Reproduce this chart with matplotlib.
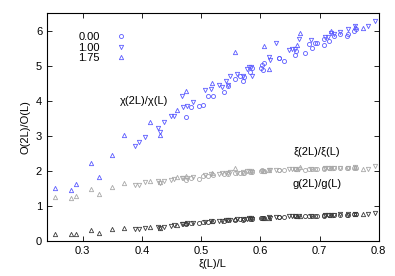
import matplotlib
matplotlib.use('Agg')
import matplotlib.pyplot as plt
import numpy as np

plt.rcParams['font.family'] = ['Liberation Sans', 'DejaVu Sans']

# alpha = 1.75 (triangulos)
x_175 = [0.254, 0.281, 0.289, 0.314, 0.327, 0.350, 0.370, 0.413, 0.430, 0.459,
         0.474, 0.519, 0.557, 0.607, 0.615, 0.662, 0.667, 0.719, 0.759, 0.773]
chi_175 = [1.52, 1.44, 1.62, 2.21, 1.82, 2.46, 3.02, 3.38, 3.01, 3.73,
           4.27, 4.50, 5.38, 5.57, 4.89, 5.58, 5.92, 5.98, 6.10, 6.06]
xi_175 = [1.25, 1.22, 1.28, 1.48, 1.35, 1.53, 1.65, 1.72, 1.69, 1.81,
          1.85, 1.93, 2.08, 2.00, 2.02, 2.05, 2.10, 2.08, 2.10, 2.06]
g_175 = [0.20, 0.19, 0.20, 0.30, 0.23, 0.33, 0.38, 0.41, 0.38, 0.46,
         0.52, 0.56, 0.63, 0.66, 0.66, 0.70, 0.72, 0.74, 0.76, 0.77]

# alpha = 1.00 (triangulos invertidos)
x_100 = [0.388, 0.395, 0.406, 0.428, 0.430, 0.437, 0.449, 0.454, 0.468, 0.470,
         0.477, 0.486, 0.507, 0.517, 0.531, 0.535, 0.542, 0.545, 0.549, 0.560,
         0.570, 0.578, 0.581, 0.585, 0.586, 0.615, 0.617, 0.627, 0.649, 0.654,
         0.659, 0.666, 0.685, 0.710, 0.714, 0.720, 0.724, 0.734, 0.748, 0.759,
         0.782, 0.794]
chi_100 = [2.71, 2.82, 2.96, 3.22, 3.12, 3.39, 3.55, 3.57, 4.12, 3.81,
           3.84, 3.96, 4.31, 4.33, 4.45, 4.39, 4.56, 4.44, 4.69, 4.75,
           4.71, 4.89, 4.96, 4.97, 4.69, 5.25, 5.17, 5.64, 5.44, 5.48,
           5.46, 5.75, 5.73, 5.82, 5.82, 5.93, 5.91, 5.97, 6.03, 6.14,
           6.14, 6.28]
xi_100 = [1.60, 1.60, 1.67, 1.70, 1.66, 1.72, 1.74, 1.76, 1.80, 1.79,
          1.80, 1.82, 1.88, 1.90, 1.92, 1.93, 1.95, 1.94, 1.96, 1.95,
          1.97, 1.99, 2.00, 2.00, 1.98, 2.02, 2.01, 2.03, 2.04, 2.05,
          2.04, 2.06, 2.06, 2.07, 2.07, 2.08, 2.08, 2.08, 2.09, 2.10,
          2.06, 2.15]
g_100 = [0.33, 0.33, 0.36, 0.40, 0.37, 0.39, 0.43, 0.45, 0.48, 0.49,
         0.50, 0.51, 0.55, 0.56, 0.58, 0.58, 0.60, 0.59, 0.61, 0.62,
         0.62, 0.64, 0.65, 0.65, 0.63, 0.67, 0.66, 0.69, 0.70, 0.71,
         0.70, 0.72, 0.72, 0.74, 0.74, 0.75, 0.75, 0.76, 0.77, 0.78,
         0.77, 0.81]

# alpha = 0.00 (circulos)
x_000 = [0.475, 0.483, 0.496, 0.504, 0.512, 0.520, 0.538, 0.546, 0.558, 0.566,
         0.571, 0.573, 0.582, 0.586, 0.602, 0.603, 0.605, 0.606, 0.631, 0.632,
         0.640, 0.658, 0.661, 0.675, 0.682, 0.688, 0.693, 0.695, 0.707, 0.708,
         0.716, 0.724, 0.734, 0.746, 0.748, 0.758, 0.762]
chi_000 = [3.52, 3.81, 3.84, 3.89, 4.12, 4.12, 4.24, 4.41, 4.62, 4.71,
           4.57, 4.68, 4.82, 4.93, 4.92, 5.01, 4.86, 5.07, 5.23, 5.22,
           5.12, 5.31, 5.41, 5.36, 5.62, 5.49, 5.64, 5.64, 5.76, 5.58,
           5.69, 5.84, 5.89, 5.84, 5.91, 5.98, 6.03]
xi_000 = [1.74, 1.80, 1.78, 1.84, 1.86, 1.88, 1.91, 1.92, 1.94, 1.95,
          1.94, 1.95, 1.97, 1.98, 1.99, 2.01, 1.99, 2.00, 2.02, 2.03,
          2.01, 2.04, 2.05, 2.03, 2.06, 2.05, 2.06, 2.06, 2.07, 2.05,
          2.07, 2.08, 2.08, 2.07, 2.08, 2.09, 2.08]
g_000 = [0.47, 0.50, 0.50, 0.53, 0.55, 0.56, 0.58, 0.59, 0.61, 0.62,
         0.61, 0.62, 0.63, 0.64, 0.65, 0.66, 0.65, 0.66, 0.68, 0.68,
         0.67, 0.70, 0.70, 0.70, 0.72, 0.71, 0.72, 0.72, 0.73, 0.72,
         0.73, 0.74, 0.75, 0.74, 0.75, 0.76, 0.76]

etiquetas = ['0.00', '1.00', '1.75']
azul = '#5a5aff'
gris = '#a8a8a8'
oscuro = '#3a3a3a'

fig = plt.figure(figsize=(3.95, 2.76), dpi=100)
ax = fig.add_axes([0.119, 0.127, 0.840, 0.826])

grupos = [(x_000, chi_000, xi_000, g_000, 'o', 2.9),
          (x_100, chi_100, xi_100, g_100, 'v', 3.1),
          (x_175, chi_175, xi_175, g_175, '^', 3.1)]

for (xs, chi, xi, g, m, ms), lab in zip(grupos, etiquetas):
    ax.plot(xs, chi, m, mfc='none', mec=azul, ms=ms, mew=0.6, ls='none', label=lab)
    ax.plot(xs, xi, m, mfc='none', mec=gris, ms=ms, mew=0.6, ls='none')
    ax.plot(xs, g, m, mfc='none', mec=oscuro, ms=ms, mew=0.6, ls='none')

ax.text(0.403, 4.0, 'χ(2L)/χ(L)', fontsize=8, ha='center', va='center')
ax.text(0.695, 2.54, 'ξ(2L)/ξ(L)', fontsize=8, ha='center', va='center')
ax.text(0.695, 1.62, 'g(2L)/g(L)', fontsize=8, ha='center', va='center')

ax.set_xlim(0.24, 0.8)
ax.set_ylim(0, 6.5)
ax.set_xticks([0.3, 0.4, 0.5, 0.6, 0.7, 0.8])
ax.set_yticks([0, 1, 2, 3, 4, 5, 6])
ax.tick_params(direction='in', top=True, right=True, labelsize=8, length=3.5, width=0.6)
for s in ax.spines.values():
    s.set_linewidth(0.8)
ax.set_xlabel('ξ(L)/L', fontsize=8, labelpad=2)
ax.set_ylabel('O(2L)/O(L)', fontsize=8, labelpad=4)

ax.legend(loc='upper left', bbox_to_anchor=(0.07, 0.95), frameon=False, markerfirst=False,
          fontsize=8, handlelength=1.0, handletextpad=1.4, labelspacing=0.05, borderpad=0.2)

fig.savefig('out.png', dpi=100)
